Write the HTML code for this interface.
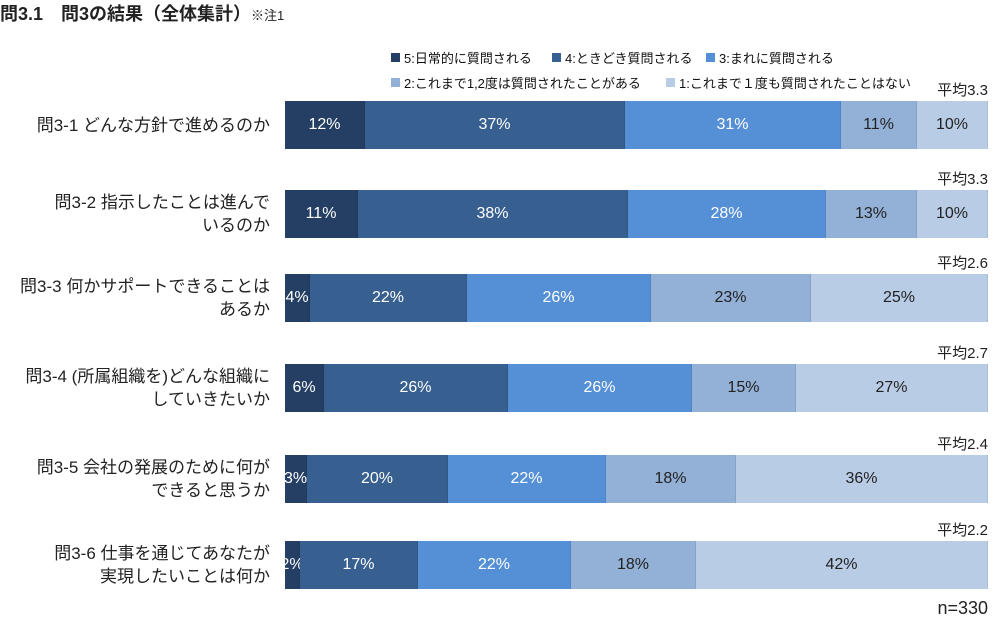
<!DOCTYPE html>
<html><head><meta charset="utf-8"><style>
body{margin:0;width:1000px;height:635px;background:#fff;font-family:"Liberation Sans","Noto Sans CJK JP",sans-serif;color:#222;position:relative;overflow:hidden}
.a{position:absolute;white-space:nowrap}
.s{position:absolute;height:48px;display:flex;align-items:center;justify-content:center;font-size:16px;color:#fff;border-right:1px solid rgba(0,0,0,0.08);box-sizing:border-box}
.lab{position:absolute;right:730px;text-align:right;font-size:17px;line-height:23px}
.avg{position:absolute;right:12px;font-size:15px}
.lg{position:absolute;font-size:13px;display:flex;align-items:center;color:#111}
.lg i{display:inline-block;width:9px;height:9px;margin-right:4px}
</style></head><body>
<div class="a" style="left:0;top:0;font-size:18px;font-weight:bold">問3.1　問3の結果（全体集計）<span style="font-size:13px;font-weight:normal">※注1</span></div>
<div class="lg" style="left:391px;top:48px"><i style="background:#243f63"></i>5:日常的に質問される</div>
<div class="lg" style="left:552px;top:48px"><i style="background:#375f8f"></i>4:ときどき質問される</div>
<div class="lg" style="left:706px;top:48px"><i style="background:#5590d6"></i>3:まれに質問される</div>
<div class="lg" style="left:391px;top:73px"><i style="background:#93b0d6"></i>2:これまで1,2度は質問されたことがある</div>
<div class="lg" style="left:666px;top:73px"><i style="background:#b8cce6"></i>1:これまで１度も質問されたことはない</div>
<div id="c"></div>
<div class="a" style="right:12px;top:598px;font-size:18px">n=330</div>
<script>
var rows=[
[101,["問3-1 どんな方針で進めるのか"],"3.3",[285,365,625,841,917,988],["12%","37%","31%","11%","10%"]],
[190,["問3-2 指示したことは進んで","いるのか"],"3.3",[285,358,628,826,917,988],["11%","38%","28%","13%","10%"]],
[274,["問3-3 何かサポートできることは","あるか"],"2.6",[285,310,467,651,811,988],["4%","22%","26%","23%","25%"]],
[364,["問3-4 (所属組織を)どんな組織に","していきたいか"],"2.7",[285,324,508,692,796,988],["6%","26%","26%","15%","27%"]],
[455,["問3-5 会社の発展のために何が","できると思うか"],"2.4",[285,307,448,606,736,988],["3%","20%","22%","18%","36%"]],
[541,["問3-6 仕事を通じてあなたが","実現したいことは何か"],"2.2",[285,300,418,571,696,988],["2%","17%","22%","18%","42%"]]];
var cols=["#243f63","#375f8f","#5590d6","#93b0d6","#b8cce6"];
var h="";
rows.forEach(function(r){
var y=r[0];
h+='<div class="lab" style="top:'+(y+24-r[1].length*11.5)+'px">'+r[1].join("<br>")+'</div>';
h+='<div class="avg" style="top:'+(y-22)+'px">平均'+r[2]+'</div>';
for(var i=0;i<5;i++){h+='<div class="s" style="left:'+r[3][i]+'px;top:'+y+'px;width:'+(r[3][i+1]-r[3][i])+'px;background:'+cols[i]+';color:'+(i<3?'#fff':'#222')+'">'+r[4][i]+'</div>';}
});
document.getElementById("c").innerHTML=h;
</script>
</body></html>
